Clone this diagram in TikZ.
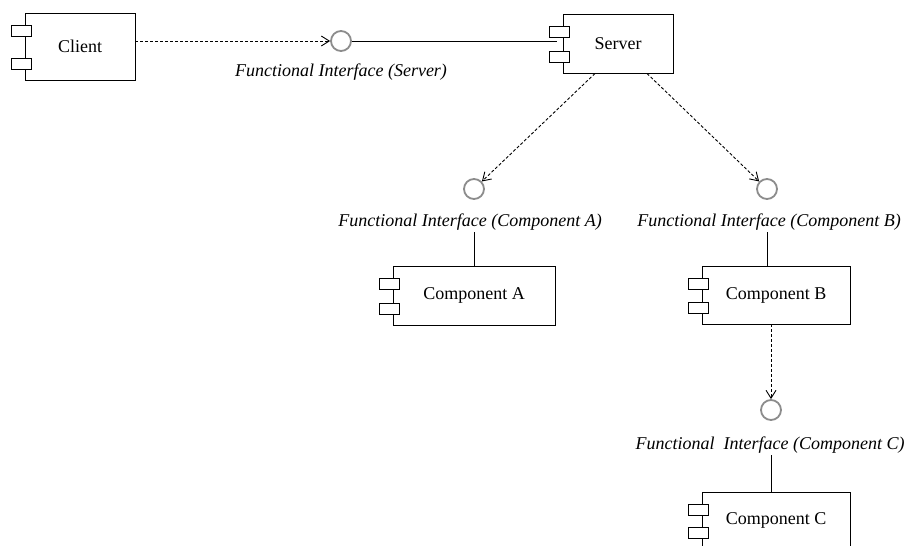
\documentclass[tikz,border=0pt]{standalone}
\usepackage{fontspec}
\setmainfont{Liberation Serif}
\usetikzlibrary{arrows.meta}

% component box with the two UML tabs on its left edge
% #1 name, #2 left, #3 top, #4 width, #5 height, #6 text
\newcommand\compbox[6]{%
  \node[comp,minimum width=#4,minimum height=#5] (#1) at (#2+#4/2,#3+#5/2) {#6};
  \node[tabbox,anchor=north] (#1-t1) at ([xshift=-3pt,yshift=-12pt]#1.north west) {};
  \node[tabbox,anchor=south] (#1-t2) at ([xshift=-3pt,yshift=11pt]#1.south west) {};
}

\begin{document}
\begin{tikzpicture}[x=1pt,y=-1pt,
  comp/.style={draw,line width=0.9pt,rectangle,inner sep=0pt,fill=white,
    font=\fontsize{18}{21}\selectfont},
  tabbox/.style={draw,line width=0.9pt,rectangle,fill=white,inner sep=0pt,
    minimum width=20,minimum height=11},
  iface/.style={draw=black!45,line width=1.8pt,circle,fill=white,inner sep=0pt,
    minimum size=20},
  lbl/.style={font=\fontsize{18}{21}\selectfont\itshape,inner sep=2pt},
  dep/.style={line width=0.9pt,dash pattern=on 3pt off 2pt,
    -{Straight Barb[length=8pt,width=10pt,line width=0.9pt]}},
  conn/.style={line width=0.9pt}]
\useasboundingbox (0,0) rectangle (908,546);

% components
\compbox{client}{25}{13}{110}{67}{Client}
\compbox{server}{563}{14}{110}{59}{Server}
\compbox{compA}{393}{266}{162}{59}{Component A}
\compbox{compB}{702}{266}{148}{58}{Component B}
\compbox{compC}{702}{492}{148}{57}{Component C}

% provided interfaces
\node[iface] (iS) at (341,41) {};
\node[iface] (iA) at (474,189) {};
\node[iface] (iB) at (767,189) {};
\node[iface] (iC) at (771,410) {};

% interface labels
\node[lbl] (lS) at (341,72) {Functional Interface (Server)};
\node[lbl] (lA) at (470,222) {Functional Interface (Component A)};
\node[lbl] (lB) at (769,222) {Functional Interface (Component B)};
\node[lbl] (lC) at (770,445) {Functional\ \ Interface (Component C)};

% realisations
\draw[conn] (iS.east) -- ([xshift=-6pt]server.west |- iS.east);
\draw[conn] (iA |- lA.south) -- (iA |- compA.north);
\draw[conn] (iB |- lB.south) -- (iB |- compB.north);
\draw[conn] (iC |- lC.south) -- (iC |- compC.north);

% dependencies
\draw[dep] (client.east |- iS.west) -- (iS.west);
\draw[dep] ([xshift=-23pt]server.south) -- (iA);
\draw[dep] ([xshift=29pt]server.south) -- (iB);
\draw[dep] (compB.south -| iC) -- (iC);
\end{tikzpicture}
\end{document}
